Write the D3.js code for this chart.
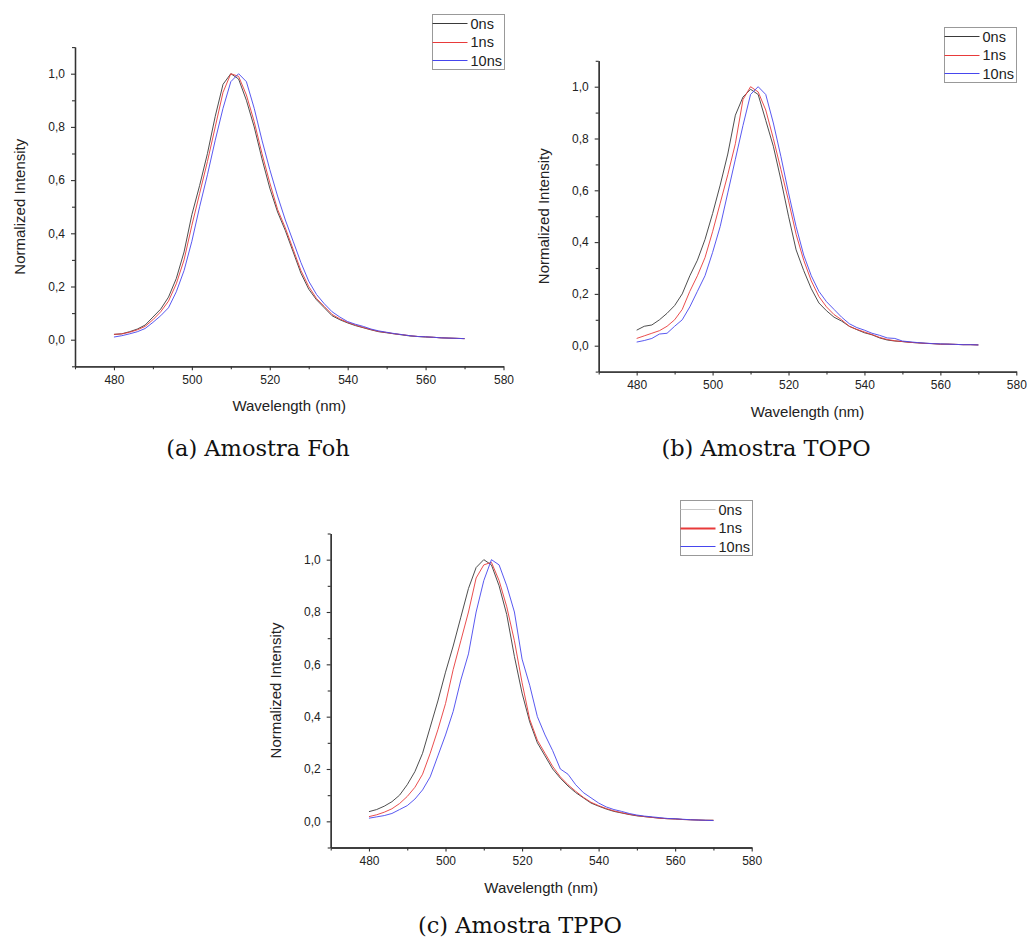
<!DOCTYPE html>
<html>
<head>
<meta charset="utf-8">
<script src="https://cdn.jsdelivr.net/npm/d3@7"></script>
<style>
  body { margin: 0; background: #fff; }
  svg text { font-family: "Liberation Sans", Arial, sans-serif; fill: #222; }
  .caption { font-family: "DejaVu Serif", serif; fill: #111; }
</style>
</head>
<body>
<svg id="chart" width="1027" height="941"></svg>
<script>
"use strict";

// wavelength (nm) of each sample
var wavelengths = [480, 482, 484, 486, 488, 490, 492, 494, 496, 498,
                   500, 502, 504, 506, 508, 510, 512, 514, 516, 518,
                   520, 522, 524, 526, 528, 530, 532, 534, 536, 538,
                   540, 542, 544, 546, 548, 550, 552, 554, 556, 558,
                   560, 562, 564, 566, 568, 570];

var seriesNames = ["0ns", "1ns", "10ns"];

// (a) Amostra Foh
var foh0 = [0.020, 0.022, 0.030, 0.040, 0.055, 0.085, 0.115, 0.160, 0.230, 0.330,
            0.470, 0.580, 0.700, 0.840, 0.960, 1.000, 0.980, 0.900, 0.800, 0.680,
            0.570, 0.480, 0.410, 0.330, 0.250, 0.190, 0.150, 0.120, 0.090, 0.075,
            0.063, 0.053, 0.045, 0.037, 0.030, 0.026, 0.022, 0.018, 0.014, 0.012,
            0.010, 0.009, 0.007, 0.006, 0.005, 0.004];
var foh1 = [0.020, 0.022, 0.028, 0.037, 0.050, 0.075, 0.105, 0.145, 0.210, 0.300,
            0.430, 0.550, 0.670, 0.800, 0.930, 1.000, 0.990, 0.920, 0.820, 0.700,
            0.590, 0.490, 0.420, 0.340, 0.260, 0.200, 0.155, 0.125, 0.095, 0.078,
            0.065, 0.055, 0.046, 0.038, 0.031, 0.027, 0.022, 0.019, 0.015, 0.012,
            0.011, 0.009, 0.007, 0.006, 0.005, 0.004];
var foh10 = [0.010, 0.015, 0.022, 0.030, 0.042, 0.065, 0.090, 0.120, 0.180, 0.260,
             0.370, 0.500, 0.620, 0.750, 0.870, 0.970, 1.000, 0.970, 0.870, 0.750,
             0.640, 0.540, 0.450, 0.370, 0.290, 0.220, 0.170, 0.135, 0.105, 0.085,
             0.068, 0.058, 0.050, 0.040, 0.033, 0.028, 0.023, 0.019, 0.015, 0.012,
             0.011, 0.009, 0.007, 0.006, 0.005, 0.004];

// (b) Amostra TOPO
var topo0 = [0.060, 0.075, 0.080, 0.100, 0.125, 0.155, 0.200, 0.270, 0.330, 0.410,
             0.510, 0.620, 0.740, 0.890, 0.960, 0.990, 0.970, 0.870, 0.770, 0.640,
             0.500, 0.370, 0.290, 0.220, 0.165, 0.135, 0.110, 0.095, 0.075, 0.062,
             0.050, 0.042, 0.030, 0.022, 0.018, 0.016, 0.013, 0.011, 0.009, 0.008,
             0.006, 0.006, 0.005, 0.004, 0.004, 0.003];
var topo1 = [0.028, 0.038, 0.048, 0.058, 0.075, 0.100, 0.140, 0.210, 0.270, 0.340,
             0.440, 0.550, 0.660, 0.780, 0.950, 1.000, 0.980, 0.910, 0.800, 0.680,
             0.560, 0.430, 0.330, 0.250, 0.190, 0.150, 0.120, 0.100, 0.075, 0.063,
             0.053, 0.043, 0.032, 0.024, 0.019, 0.016, 0.013, 0.011, 0.009, 0.008,
             0.006, 0.006, 0.005, 0.004, 0.004, 0.003];
var topo10 = [0.014, 0.020, 0.028, 0.045, 0.048, 0.075, 0.100, 0.150, 0.210, 0.270,
              0.360, 0.460, 0.590, 0.720, 0.850, 0.970, 1.000, 0.970, 0.860, 0.730,
              0.590, 0.460, 0.350, 0.270, 0.210, 0.170, 0.140, 0.110, 0.085, 0.070,
              0.060, 0.048, 0.040, 0.030, 0.028, 0.018, 0.015, 0.012, 0.010, 0.008,
              0.007, 0.006, 0.005, 0.004, 0.004, 0.003];

// (c) Amostra TPPO
var tppo0 = [0.037, 0.045, 0.058, 0.075, 0.100, 0.140, 0.190, 0.260, 0.360, 0.460,
             0.570, 0.670, 0.780, 0.890, 0.970, 1.000, 0.980, 0.900, 0.790, 0.630,
             0.490, 0.380, 0.300, 0.250, 0.200, 0.165, 0.135, 0.110, 0.090, 0.070,
             0.058, 0.047, 0.038, 0.032, 0.026, 0.021, 0.018, 0.015, 0.012, 0.010,
             0.009, 0.007, 0.006, 0.005, 0.004, 0.004];
var tppo1 = [0.018, 0.025, 0.035, 0.048, 0.068, 0.095, 0.130, 0.180, 0.260, 0.350,
             0.450, 0.580, 0.690, 0.800, 0.930, 0.980, 0.990, 0.920, 0.820, 0.690,
             0.530, 0.390, 0.310, 0.260, 0.210, 0.170, 0.140, 0.115, 0.092, 0.073,
             0.060, 0.049, 0.040, 0.033, 0.027, 0.022, 0.018, 0.015, 0.012, 0.010,
             0.009, 0.007, 0.006, 0.005, 0.004, 0.004];
var tppo10 = [0.012, 0.017, 0.022, 0.030, 0.045, 0.060, 0.085, 0.120, 0.170, 0.250,
              0.330, 0.420, 0.540, 0.640, 0.800, 0.920, 1.000, 0.980, 0.900, 0.800,
              0.620, 0.520, 0.400, 0.330, 0.270, 0.200, 0.180, 0.140, 0.110, 0.090,
              0.070, 0.055, 0.045, 0.038, 0.030, 0.024, 0.020, 0.017, 0.014, 0.011,
              0.010, 0.008, 0.006, 0.005, 0.004, 0.003];

var xMajor = [480, 500, 520, 540, 560, 580];
var xMinor = [470, 490, 510, 530, 550, 570];
var yMajor = [0.0, 0.2, 0.4, 0.6, 0.8, 1.0];
var yMinor = [-0.1, 0.1, 0.3, 0.5, 0.7, 0.9, 1.1];

var colors = ["#3a3a3a", "#e83a3a", "#4646ee"];

// panel placement on the page
var panels = [
    { caption: "(a) Amostra Foh", data: [foh0, foh1, foh10],
      left: 75, right: 503.5, top: 47.1, bottom: 366.3, capX: 258, capY: 456 },
    { caption: "(b) Amostra TOPO", data: [topo0, topo1, topo10],
      left: 598.7, right: 1016.3, top: 60.8, bottom: 371.6, capX: 766, capY: 456 },
    { caption: "(c) Amostra TPPO", data: [tppo0, tppo1, tppo10],
      left: 330.7, right: 751.7, top: 533.5, bottom: 847.5, capX: 520, capY: 933,
      legendColors: ["#c8c8c8", "#e83a3a", "#4646ee"], legendWidths: [1.2, 2, 1] }
];

var svg = d3.select("#chart");
var fmt = function(d) { return d3.format(".1f")(d).replace(".", ","); };

panels.forEach(function(p) {
    var x = d3.scaleLinear().domain([470, 580]).range([p.left, p.right]);
    var y = d3.scaleLinear().domain([-0.1, 1.1]).range([p.bottom, p.top]);
    var g = svg.append("g");

    // curves
    var line = d3.line()
        .x(function(d, i) { return x(wavelengths[i]); })
        .y(function(d) { return y(d); });

    p.data.forEach(function(s, k) {
        g.append("path")
            .datum(s)
            .attr("fill", "none")
            .attr("stroke", colors[k])
            .attr("stroke-width", 0.9)
            .attr("d", line);
    });

    // x axis
    var gx = g.append("g").attr("transform", "translate(0," + p.bottom + ")");
    gx.call(d3.axisBottom(x).tickValues(xMajor).tickSize(4).tickSizeOuter(0).tickPadding(5).tickFormat(d3.format("d")));
    gx.append("g").call(d3.axisBottom(x).tickValues(xMinor).tickSize(3).tickSizeOuter(0).tickFormat(""));
    gx.selectAll("text").style("font-size", "12px").attr("fill", "#222");

    // y axis
    var gy = g.append("g").attr("transform", "translate(" + p.left + ",0)");
    gy.call(d3.axisLeft(y).tickValues(yMajor).tickSize(4).tickSizeOuter(0).tickPadding(6).tickFormat(fmt));
    gy.append("g").call(d3.axisLeft(y).tickValues(yMinor).tickSize(3).tickSizeOuter(0).tickFormat(""));
    gy.selectAll("text").style("font-size", "12px").attr("fill", "#222");

    g.selectAll(".domain").attr("stroke", "#333").attr("stroke-width", 1.3);
    g.selectAll(".tick line").attr("stroke", "#333").attr("stroke-width", 1.1);

    // axis titles
    g.append("text")
        .attr("x", (p.left + p.right) / 2)
        .attr("y", p.bottom + 45)
        .attr("text-anchor", "middle")
        .style("font-size", "15px")
        .text("Wavelength (nm)");

    g.append("text")
        .attr("transform", "translate(" + (p.left - 50) + "," + ((p.top + p.bottom) / 2) + ") rotate(-90)")
        .attr("text-anchor", "middle")
        .style("font-size", "15px")
        .text("Normalized Intensity");

    // legend
    var lw = 72, lh = 55;
    var lx = Math.round(p.right - lw) + 0.5, ly = Math.round(p.top - 33.5) + 0.5;
    var leg = g.append("g").attr("transform", "translate(" + lx + "," + ly + ")");
    leg.append("rect")
        .attr("width", lw).attr("height", lh)
        .attr("fill", "#fff")
        .attr("stroke", "#999")
        .attr("stroke-width", 1);
    seriesNames.forEach(function(name, k) {
        var yy = 9 + k * 18.5;
        leg.append("line")
            .attr("x1", 0).attr("x2", 35)
            .attr("y1", Math.round(yy)).attr("y2", Math.round(yy))
            .attr("stroke", p.legendColors ? p.legendColors[k] : colors[k])
            .attr("stroke-width", p.legendWidths ? p.legendWidths[k] : 1);
        leg.append("text")
            .attr("x", 38).attr("y", yy + 5)
            .style("font-size", "14.5px")
            .text(name);
    });

    // caption
    svg.append("text")
        .attr("class", "caption")
        .attr("x", p.capX).attr("y", p.capY)
        .attr("text-anchor", "middle")
        .style("font-size", "22.5px")
        .text(p.caption);
});
</script>
</body>
</html>
